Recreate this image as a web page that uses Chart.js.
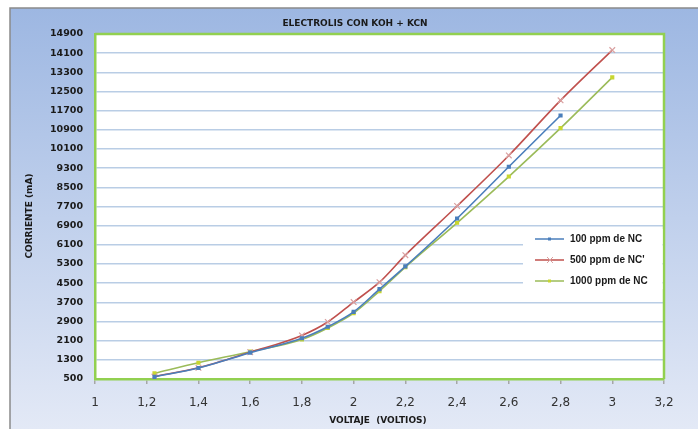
<!DOCTYPE html>
<html>
<head>
<meta charset="utf-8">
<script src="https://cdn.jsdelivr.net/npm/chart.js@4.4.1/dist/chart.umd.min.js"></script>
<style>
  html, body { margin: 0; padding: 0; background: #fff; }
  #wrap { width: 698px; height: 429px; position: relative; }
</style>
</head>
<body>
<div id="wrap"><canvas id="chart" width="698" height="429"></canvas></div>
<script>
const voltaje = [1.23, 1.4, 1.6, 1.8, 1.9, 2.0, 2.1, 2.2, 2.4, 2.6, 2.8, 3.0];
const ppm100 = [590, 960, 1600, 2200, 2680, 3300, 4250, 5200, 7200, 9360, 11500];
const ppm500 = [600, 970, 1620, 2320, 2880, 3710, 4540, 5670, 7720, 9830, 12130, 14230];
const ppm1000 = [740, 1180, 1640, 2150, 2630, 3250, 4170, 5170, 7020, 8950, 10970, 13090];
const seriesNames = ['100 ppm de NC', "500 ppm de NC'", '1000 ppm de NC'];

const colors = {
    blue: '#4a7ebb',
    red: '#c0504d',
    redMark: '#d9a0a0',
    green: '#9bbb59',
    frame: '#92d050',
    grid: '#b9cde5',
    text: '#1a1a1a'
};

const toPoints = (ys) => ys.map((y, i) => ({ x: voltaje[i], y: y }));

const decoration = {
    id: 'decoration',
    beforeDraw(chart) {
        const c = chart.ctx;
        const a = chart.chartArea;
        const g = c.createLinearGradient(0, 8, 0, 429);
        g.addColorStop(0, '#9db7e2');
        g.addColorStop(1, '#e3e9f6');
        c.save();
        c.fillStyle = g;
        c.fillRect(10, 8, 688, 421);
        c.strokeStyle = '#8a8a8a';
        c.lineWidth = 1.5;
        c.beginPath();
        c.moveTo(10, 429);
        c.lineTo(10, 8);
        c.lineTo(698, 8);
        c.stroke();
        c.fillStyle = '#fff';
        c.fillRect(a.left, a.top, a.right - a.left, a.bottom - a.top);
        c.restore();
    },
    afterDatasetsDraw(chart) {
        const c = chart.ctx;
        const a = chart.chartArea;
        c.save();
        // green frame top/right
        c.strokeStyle = colors.frame;
        c.lineWidth = 2.5;
        c.beginPath();
        c.moveTo(a.left, a.top);
        c.lineTo(a.right, a.top);
        c.lineTo(a.right, a.bottom);
        c.stroke();

        // legend
        c.fillStyle = '#fff';
        c.fillRect(523, 229, a.right - 524.5, 60);
        const sets = chart.data.datasets;
        c.font = 'bold 10px "Liberation Sans"';
        c.textBaseline = 'middle';
        sets.forEach((ds, i) => {
            const y = 239 + i * 21;
            c.strokeStyle = ds.borderColor;
            c.lineWidth = 1.5;
            c.beginPath();
            c.moveTo(535, y);
            c.lineTo(564, y);
            c.stroke();
            c.fillStyle = ds.pointBorderColor;
            c.strokeStyle = ds.pointBorderColor;
            if (ds.pointStyle === 'crossRot') {
                c.lineWidth = 1;
                c.beginPath();
                c.moveTo(547, y - 3); c.lineTo(553, y + 3);
                c.moveTo(553, y - 3); c.lineTo(547, y + 3);
                c.stroke();
            } else {
                c.fillRect(548, y - 1.5, 3, 3);
            }
            c.fillStyle = colors.text;
            c.fillText(ds.label, 570, y);
        });

        // titles
        c.fillStyle = colors.text;
        c.textAlign = 'center';
        c.font = 'bold 9px "DejaVu Sans"';
        c.fillText('ELECTROLIS CON KOH + KCN', 355, 24);
        c.fillText('VOLTAJE  (VOLTIOS)', 378, 421);
        c.translate(30, 216);
        c.rotate(-Math.PI / 2);
        c.fillText('CORRIENTE (mA)', 0, 0);
        c.restore();
    }
};

const ctx = document.getElementById('chart').getContext('2d');

const chart = new Chart(ctx, {
    type: 'line',
    data: {
        datasets: [{
            label: seriesNames[0],
            data: toPoints(ppm100),
            borderColor: colors.blue,
            backgroundColor: colors.blue,
            pointBorderColor: colors.blue,
            pointBackgroundColor: colors.blue,
            pointStyle: 'rect',
            pointRadius: 1.8,
            borderWidth: 1.6
        }, {
            label: seriesNames[1],
            data: toPoints(ppm500),
            borderColor: colors.red,
            backgroundColor: colors.red,
            pointBorderColor: colors.redMark,
            pointBackgroundColor: colors.redMark,
            pointStyle: 'crossRot',
            pointRadius: 4,
            pointBorderWidth: 1.2,
            borderWidth: 1.6
        }, {
            label: seriesNames[2],
            data: toPoints(ppm1000),
            borderColor: colors.green,
            backgroundColor: colors.green,
            pointBorderColor: '#c8d630',
            pointBackgroundColor: '#c8d630',
            pointStyle: 'rect',
            pointRadius: 1.8,
            borderWidth: 1.6
        }]
    },
    options: {
        responsive: false,
        animation: false,
        cubicInterpolationMode: 'monotone',
        layout: {
            padding: { left: 10, top: 34, right: 34, bottom: 0 }
        },
        plugins: {
            legend: { display: false },
            title: { display: false },
            tooltip: { enabled: false }
        },
        scales: {
            x: {
                type: 'linear',
                min: 1,
                max: 3.2,
                afterFit: (s) => { s.height = 50; },
                afterBuildTicks: (s) => {
                    s.ticks = [1, 1.2, 1.4, 1.6, 1.8, 2, 2.2, 2.4, 2.6, 2.8, 3, 3.2].map(v => ({ value: v }));
                },
                grid: {
                    drawOnChartArea: false,
                    drawTicks: true,
                    tickLength: 5,
                    color: '#a6a6a6',
                    lineWidth: 1.5
                },
                border: { color: colors.frame, width: 2.5 },
                ticks: {
                    color: '#333',
                    padding: 12,
                    font: { family: 'DejaVu Sans', size: 12 },
                    callback: (v) => String(Number(v.toFixed(1))).replace('.', ',')
                }
            },
            y: {
                min: 500,
                max: 14900,
                afterFit: (s) => { s.width = 85; },
                ticks: {
                    stepSize: 800,
                    color: colors.text,
                    padding: 12,
                    font: { family: 'DejaVu Sans', size: 9.5, weight: 'bold' },
                    callback: (v) => String(v)
                },
                grid: {
                    color: colors.grid,
                    lineWidth: 1.5,
                    drawTicks: false
                },
                border: { color: colors.frame, width: 2.5 }
            }
        }
    },
    plugins: [decoration]
});
</script>
</body>
</html>
